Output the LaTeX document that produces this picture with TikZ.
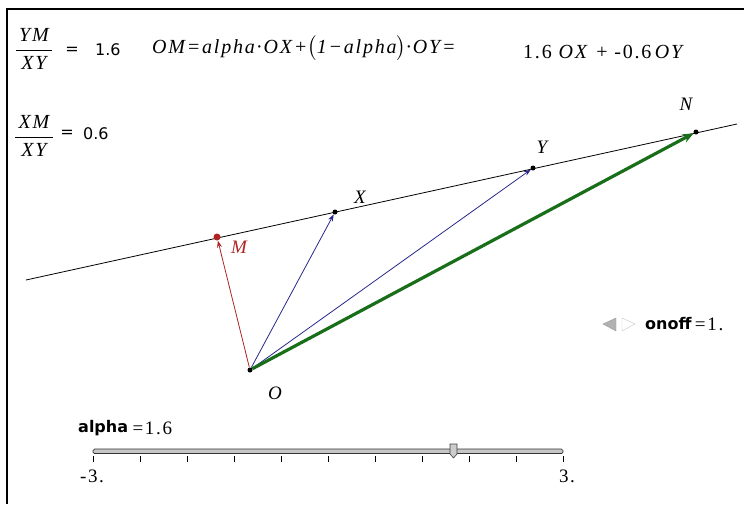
\documentclass[tikz,border=0pt]{standalone}
\usepackage{amsmath}
\usepackage{fontspec}
\setmainfont{Liberation Serif}
\setsansfont{DejaVu Sans}
\newfontfamily\numfont{DejaVu Sans}
\newfontfamily\widefont[LetterSpace=9]{Liberation Serif}
\usetikzlibrary{arrows.meta, positioning}
\definecolor{VecBlue}{RGB}{40,40,140}
\definecolor{VecRed}{RGB}{175,35,35}
\definecolor{VecGreen}{RGB}{25,110,25}

\begin{document}
\begin{tikzpicture}[x=1pt, y=-1pt, >=Stealth,
    dot/.style={circle, fill=black, inner sep=0pt, minimum size=5pt},
    ptlabel/.style={font=\fontsize{19}{22}\selectfont\itshape},
    numtxt/.style={font=\numfont\fontsize{16}{19}\selectfont, inner sep=0pt},
    widetxt/.style={font=\widefont\fontsize{19}{22}\selectfont, inner sep=0pt},
    mathtxt/.style={font=\widefont\fontsize{20}{23}\selectfont, inner sep=0pt},
    boldsans/.style={font=\sffamily\bfseries\fontsize{16}{19}\selectfont, inner sep=0pt},
    vec/.style={->, line width=0.8pt}]
  \useasboundingbox (0,0) rectangle (744,504);
  % Frame
  \draw[line width=2.5pt] (744,9) -- (7,9) -- (7,504);
  % Ratios and formula
  \node[mathtxt] (fracYM) at (34,49) {$\dfrac{\,\textit{YM}\,}{\,\textit{XY}\,}$};
  \node[numtxt] (eqYM) at (72,51) {=};
  \node[numtxt, anchor=west] (valYM) at (95,50) {1.6};
  \node[mathtxt] (fracXM) at (34,136) {$\dfrac{\,\textit{XM}\,}{\,\textit{XY}\,}$};
  \node[numtxt] (eqXM) at (67,134) {=};
  \node[numtxt, anchor=west] (valXM) at (83,134) {0.6};
  \node[mathtxt, anchor=west] (eqOM) at (152,48)
    {\itshape OM=alpha·OX+$\bigl($1−alpha$\bigr)$·OY=};
  \node[mathtxt, anchor=west] (eqRes) at (523,52)
    {1.6 \textit{OX} + -0.6\,\textit{OY}};
  % Line through X and Y
  \coordinate (L1) at (26,280);
  \coordinate (L2) at (737,124);
  \draw[line width=0.8pt] (L1) -- (L2);
  % Points
  \node[dot] (O) at (250,370) {};
  \node[dot] (X) at (335,212) {};
  \node[dot] (Y) at (533,168) {};
  \node[dot] (N) at (696,132) {};
  \node[dot, fill=VecRed, minimum size=7pt] (M) at (217,237) {};
  % Vectors
  \draw[vec, VecBlue, -{Stealth[length=7pt, width=5pt]}] (O) -- (X);
  \draw[vec, VecBlue, -{Stealth[length=7pt, width=5pt]}] (O) -- (Y);
  \draw[vec, VecRed, -{Stealth[length=7pt, width=5pt]}] (O) -- (M);
  \draw[VecGreen, line width=3.2pt, -{Stealth[length=11pt, width=9pt]}] (O) -- (N);
  % Point labels
  \node[ptlabel] (lblO) at (275,393) {O};
  \node[ptlabel] (lblX) at (360,197) {X};
  \node[ptlabel] (lblY) at (542,147) {Y};
  \node[ptlabel] (lblN) at (686,104) {N};
  \node[ptlabel, VecRed] (lblM) at (239,247) {M};
  % onoff button
  \filldraw[fill=gray!60, draw=gray!80] (603,324) -- (616,318) -- (616,331) -- cycle;
  \draw[gray!45] (622,318) -- (635,324) -- (622,331) -- cycle;
  \node[boldsans, anchor=west] (onoffName) at (645,324) {onoff};
  \node[widetxt, right=3pt of onoffName] (onoffVal) {=1.};
  % Slider
  \node[boldsans, anchor=west] (alphaName) at (78,428) {alpha};
  \node[widetxt, right=4pt of alphaName] (alphaVal) {=1.6};
  \filldraw[fill=gray!45, draw=gray!40!black, rounded corners=1.5pt, line width=0.7pt]
    (93,449) rectangle (563,453.5);
  \foreach \i in {0,...,10} {\draw[line width=0.8pt] ({93+47*\i},456) -- ++(0,6);}
  \filldraw[fill=gray!40, draw=gray!50!black, line width=0.6pt]
    (450,444) -- (457,444) -- (457,454) -- (453.5,458) -- (450,454) -- cycle;
  \node[widetxt] (minLbl) at (92,476) {-3.};
  \node[widetxt] (maxLbl) at (567,476) {3.};
\end{tikzpicture}
\end{document}
